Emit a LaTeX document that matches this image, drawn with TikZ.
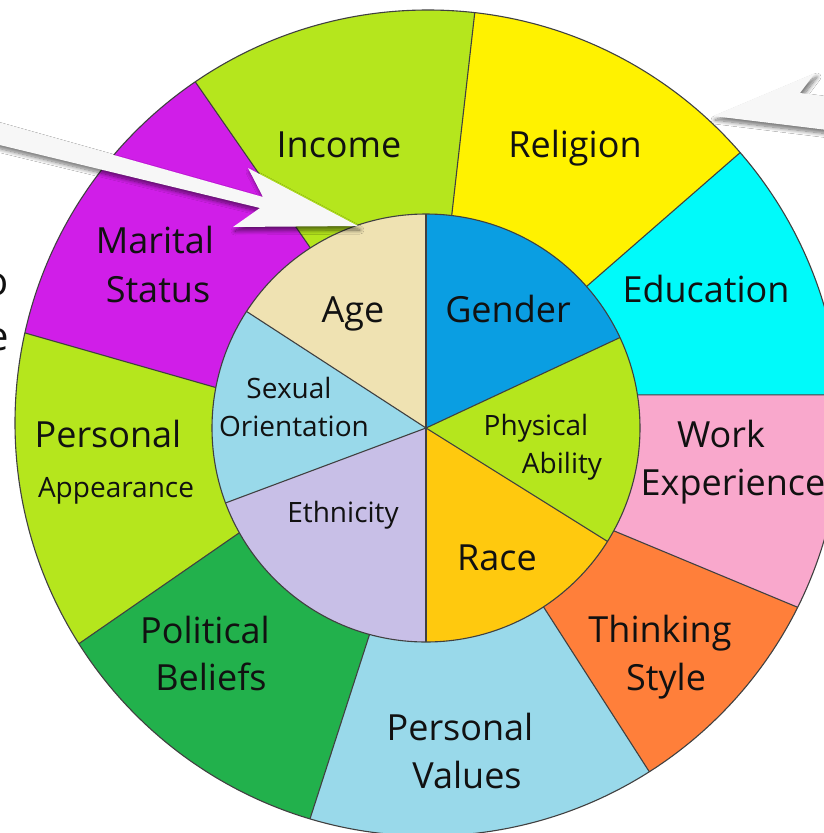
\documentclass[tikz,border=0pt]{standalone}
\usepackage{fontspec}
\setmainfont{Open Sans}
\usetikzlibrary{shadows,shadows.blur,calc}
\definecolor{cLime}{HTML}{B5E61D}
\definecolor{cYellow}{HTML}{FFF200}
\definecolor{cCyan}{HTML}{00FAFA}
\definecolor{cPink}{HTML}{F9A8CC}
\definecolor{cOrange}{HTML}{FF7F3A}
\definecolor{cSky}{HTML}{99D9EA}
\definecolor{cGreen}{HTML}{22B14C}
\definecolor{cMagenta}{HTML}{D01EE8}
\definecolor{cTan}{HTML}{EFE2B2}
\definecolor{cBlue}{HTML}{0A9EE2}
\definecolor{cGold}{HTML}{FFC90E}
\definecolor{cLav}{HTML}{C8BFE7}
\definecolor{lineC}{HTML}{404040}
\definecolor{txtC}{HTML}{111111}
\def\rOut{413}
\def\rIn{214}
\newcommand\outersec[5]{%
  \fill[#1] ($(I)+(#2:\rIn)$) -- ($(O)+(#3:\rOut)$)
    arc[start angle=#3, end angle=#5, radius=\rOut]
    -- ($(I)+(#4:\rIn)$) -- (I) -- cycle;}
\newcommand\innersec[3]{%
  \fill[#1] (I) -- ($(I)+(#2:\rIn)$)
    arc[start angle=#2, end angle=#3, radius=\rIn] -- cycle;}
\begin{document}
\begin{tikzpicture}[x=1pt,y=1pt,
  seg/.style={draw=lineC, line width=1.1pt, line join=round},
  big/.style={font=\fontsize{36}{40}\selectfont, anchor=base, inner sep=0pt, text=txtC},
  small/.style={font=\fontsize{28}{32}\selectfont, anchor=base, inner sep=0pt, text=txtC},
  arrowbody/.style={fill=white!97!black, draw=none,
    blur shadow={shadow xshift=2pt, shadow yshift=-4pt, shadow opacity=55,
      shadow blur radius=4pt, shadow blur steps=10}}]

\useasboundingbox (0,-833) rectangle (824,0);
\clip (0,-833) rectangle (824,0);
\fill[white] (0,-833) rectangle (824,0);

\coordinate (O) at (428,-423);
\coordinate (I) at (426,-428);

% outer ring sectors: colour, a1 (inner), b1 (outer), a2, b2
\outersec{cCyan}{8.9}{3.9}{41.4}{40.9}
\outersec{cYellow}{41.4}{40.9}{83.1}{83.5}
\outersec{cLime}{83.1}{83.5}{122.7}{124.3}
\outersec{cMagenta}{122.7}{124.3}{169.1}{167.4}
\outersec{cLime}{169.1}{167.4}{209.3}{212.3}
\outersec{cGreen}{209.3}{212.3}{254.7}{253.4}
\outersec{cSky}{254.7}{253.4}{303.3}{302.4}
\outersec{cOrange}{303.3}{302.4}{331.3}{333.5}
\outersec{cPink}{331.3}{333.5}{368.9}{363.9}

\foreach \a/\b in {8.9/3.9, 41.4/40.9, 83.1/83.5, 122.7/124.3, 169.1/167.4,
                   209.3/212.3, 254.7/253.4, 303.3/302.4, 331.3/333.5}
  \draw[seg] ($(I)+(\a:\rIn)$) -- ($(O)+(\b:\rOut)$);
\draw[seg] (O) circle[radius=\rOut];

% inner disc
\innersec{cBlue}{25}{90}
\innersec{cTan}{90}{147}
\innersec{cSky}{147}{200.5}
\innersec{cLav}{200.5}{270}
\innersec{cGold}{270}{328}
\innersec{cLime}{328}{385}
\foreach \a in {25,90,147,200.5,270,328}
  \draw[seg] (I) -- ($(I)+(\a:\rIn)$);
\draw[seg] (I) circle[radius=\rIn];

% outer labels
\node[big] (income) at (339,-157) {Income};
\node[big] (religion) at (575,-157) {Religion};
\node[big] (maritalA) at (155,-253) {Marital};
\node[big] (maritalB) at (158,-302) {Status};
\node[big] (education) at (706,-302) {Education};
\node[big] (persA) at (108,-447) {Personal};
\node[small] (persB) at (116,-497) {Appearance};
\node[big] (workA) at (721,-447) {Work};
\node[big] (workB) at (733,-495) {Experience};
\node[big] (politA) at (205,-643) {Political};
\node[big] (politB) at (211,-690) {Beliefs};
\node[big] (thinkA) at (660,-642) {Thinking};
\node[big] (thinkB) at (666,-690) {Style};
\node[big] (valA) at (460,-740) {Personal};
\node[big] (valB) at (467,-788) {Values};

% inner labels
\node[big] (age) at (353,-322) {Age};
\node[big] (gender) at (508,-322) {Gender};
\node[small] (sexA) at (289,-398) {Sexual};
\node[small] (sexB) at (294,-436) {Orientation};
\node[small] (physA) at (536,-435) {Physical};
\node[small] (physB) at (562,-473) {Ability};
\node[small] (ethn) at (343,-522) {Ethnicity};
\node[big] (race) at (497,-570) {Race};

% cut-off text at left edge
\node[font=\fontsize{40}{44}\selectfont, anchor=base east, inner sep=0pt, text=txtC] (cutO) at (9,-295) {o};
\node[font=\fontsize{40}{44}\selectfont, anchor=base east, inner sep=0pt, text=txtC] (cutE) at (9,-350) {e};

% 3D block arrows
\path[arrowbody] (-50,-109) -- (263,-197) -- (248,-168) -- (358,-226)
  -- (233,-227) -- (260,-208) -- (-50,-133) -- cycle;
\path[arrowbody] (713,-116) -- (815,-73) -- (800,-93) -- (860,-101)
  -- (860,-134) -- cycle;
\end{tikzpicture}
\end{document}
